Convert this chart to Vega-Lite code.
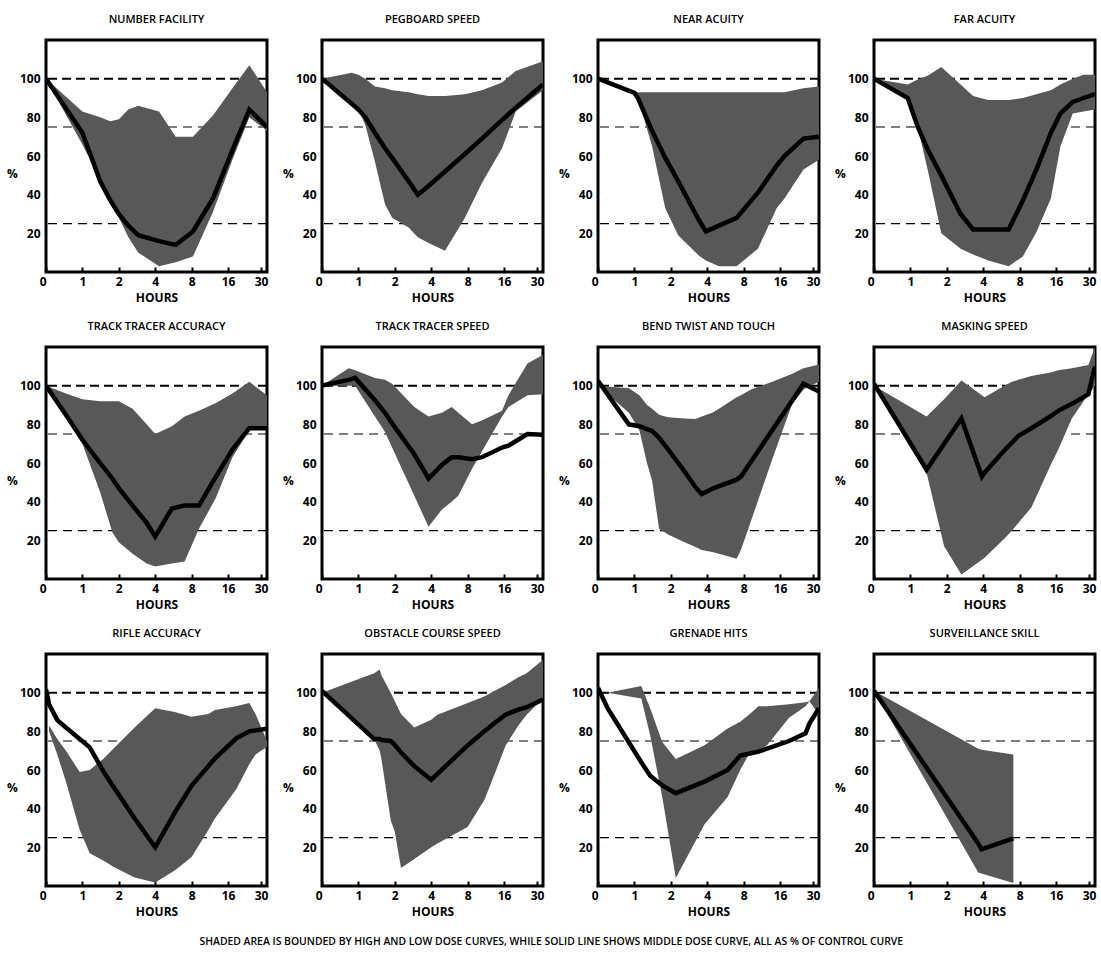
{
"$schema": "https://vega.github.io/schema/vega-lite/v6.json",
"background": "white",
"padding": {"left": 5, "top": 12, "right": 0, "bottom": 0},
"data": {"values": [
{"test":"NUMBER FACILITY","h":0,"lo":100,"hi":100,"mid":100},
{"test":"NUMBER FACILITY","h":1,"lo":66,"hi":83,"mid":72},
{"test":"NUMBER FACILITY","h":1.4,"lo":48,"hi":80,"mid":47},
{"test":"NUMBER FACILITY","h":1.7,"lo":37,"hi":78,"mid":37},
{"test":"NUMBER FACILITY","h":2,"lo":28,"hi":79,"mid":30},
{"test":"NUMBER FACILITY","h":2.4,"lo":18,"hi":84,"mid":24},
{"test":"NUMBER FACILITY","h":2.9,"lo":10,"hi":86,"mid":19},
{"test":"NUMBER FACILITY","h":4.3,"lo":3,"hi":83,"mid":16},
{"test":"NUMBER FACILITY","h":5.9,"lo":5,"hi":70,"mid":14},
{"test":"NUMBER FACILITY","h":8.2,"lo":8,"hi":70,"mid":21},
{"test":"NUMBER FACILITY","h":12,"lo":31,"hi":81,"mid":38},
{"test":"NUMBER FACILITY","h":17.4,"lo":58,"hi":95,"mid":63},
{"test":"NUMBER FACILITY","h":24,"lo":80,"hi":107,"mid":84},
{"test":"NUMBER FACILITY","h":33.6,"lo":73,"hi":93,"mid":75},
{"test":"PEGBOARD SPEED","h":0,"lo":100,"hi":100,"mid":100},
{"test":"PEGBOARD SPEED","h":0.88,"lo":88,"hi":103,"mid":87},
{"test":"PEGBOARD SPEED","h":1,"lo":84,"hi":102,"mid":84},
{"test":"PEGBOARD SPEED","h":1.14,"lo":76,"hi":100,"mid":80},
{"test":"PEGBOARD SPEED","h":1.37,"lo":57,"hi":96,"mid":72},
{"test":"PEGBOARD SPEED","h":1.66,"lo":35,"hi":95,"mid":64},
{"test":"PEGBOARD SPEED","h":1.9,"lo":28,"hi":94,"mid":59},
{"test":"PEGBOARD SPEED","h":2.6,"lo":23,"hi":93,"mid":47},
{"test":"PEGBOARD SPEED","h":3.1,"lo":18,"hi":92,"mid":40},
{"test":"PEGBOARD SPEED","h":3.8,"lo":15,"hi":91,"mid":44.5},
{"test":"PEGBOARD SPEED","h":5.2,"lo":11,"hi":91,"mid":52},
{"test":"PEGBOARD SPEED","h":7.6,"lo":28,"hi":92,"mid":61},
{"test":"PEGBOARD SPEED","h":10.5,"lo":46,"hi":94,"mid":69},
{"test":"PEGBOARD SPEED","h":15.4,"lo":64,"hi":98,"mid":78.6},
{"test":"PEGBOARD SPEED","h":20,"lo":83,"hi":104,"mid":85},
{"test":"PEGBOARD SPEED","h":33.6,"lo":94,"hi":109,"mid":97},
{"test":"NEAR ACUITY","h":0,"lo":100,"hi":100,"mid":100},
{"test":"NEAR ACUITY","h":1,"lo":92.6,"hi":93,"mid":92.6},
{"test":"NEAR ACUITY","h":1.07,"lo":90,"hi":93,"mid":90},
{"test":"NEAR ACUITY","h":1.4,"lo":65,"hi":93,"mid":73},
{"test":"NEAR ACUITY","h":1.8,"lo":33,"hi":93,"mid":59},
{"test":"NEAR ACUITY","h":2.3,"lo":19,"hi":93,"mid":47},
{"test":"NEAR ACUITY","h":3.4,"lo":8.5,"hi":93,"mid":27},
{"test":"NEAR ACUITY","h":3.9,"lo":6,"hi":93,"mid":21},
{"test":"NEAR ACUITY","h":5,"lo":3,"hi":93,"mid":24},
{"test":"NEAR ACUITY","h":7,"lo":3,"hi":93,"mid":28},
{"test":"NEAR ACUITY","h":10.5,"lo":12,"hi":93,"mid":41},
{"test":"NEAR ACUITY","h":15,"lo":33,"hi":93,"mid":55},
{"test":"NEAR ACUITY","h":17.4,"lo":38,"hi":93,"mid":60},
{"test":"NEAR ACUITY","h":25,"lo":53,"hi":95,"mid":69},
{"test":"NEAR ACUITY","h":33.6,"lo":58,"hi":96,"mid":70},
{"test":"FAR ACUITY","h":0,"lo":100,"hi":100,"mid":100},
{"test":"FAR ACUITY","h":0.95,"lo":89,"hi":97,"mid":90},
{"test":"FAR ACUITY","h":1.15,"lo":75,"hi":99.6,"mid":75},
{"test":"FAR ACUITY","h":1.4,"lo":52,"hi":101.7,"mid":63},
{"test":"FAR ACUITY","h":1.8,"lo":20,"hi":106,"mid":50},
{"test":"FAR ACUITY","h":2.6,"lo":12,"hi":97,"mid":30},
{"test":"FAR ACUITY","h":3.3,"lo":9,"hi":91,"mid":22},
{"test":"FAR ACUITY","h":4.4,"lo":6,"hi":89,"mid":22},
{"test":"FAR ACUITY","h":6.5,"lo":3,"hi":89,"mid":22},
{"test":"FAR ACUITY","h":8.5,"lo":8,"hi":90,"mid":37},
{"test":"FAR ACUITY","h":11,"lo":20.5,"hi":92,"mid":53},
{"test":"FAR ACUITY","h":14.5,"lo":38,"hi":94,"mid":72},
{"test":"FAR ACUITY","h":17.4,"lo":65,"hi":97,"mid":82},
{"test":"FAR ACUITY","h":22,"lo":82,"hi":100,"mid":88},
{"test":"FAR ACUITY","h":27,"lo":83,"hi":102,"mid":90},
{"test":"FAR ACUITY","h":33.6,"lo":84,"hi":102,"mid":92},
{"test":"TRACK TRACER ACCURACY","h":0,"lo":100,"hi":100,"mid":100},
{"test":"TRACK TRACER ACCURACY","h":0.73,"lo":83,"hi":96,"mid":85},
{"test":"TRACK TRACER ACCURACY","h":1,"lo":70,"hi":93,"mid":72},
{"test":"TRACK TRACER ACCURACY","h":1.4,"lo":45,"hi":92,"mid":60},
{"test":"TRACK TRACER ACCURACY","h":1.77,"lo":24,"hi":92,"mid":52},
{"test":"TRACK TRACER ACCURACY","h":2,"lo":19,"hi":92,"mid":47},
{"test":"TRACK TRACER ACCURACY","h":2.6,"lo":13,"hi":88,"mid":38},
{"test":"TRACK TRACER ACCURACY","h":3.4,"lo":8,"hi":80,"mid":29},
{"test":"TRACK TRACER ACCURACY","h":4,"lo":6.5,"hi":75,"mid":22},
{"test":"TRACK TRACER ACCURACY","h":5.5,"lo":8,"hi":79,"mid":36.5},
{"test":"TRACK TRACER ACCURACY","h":7,"lo":9,"hi":84,"mid":38},
{"test":"TRACK TRACER ACCURACY","h":9.2,"lo":26,"hi":87,"mid":38},
{"test":"TRACK TRACER ACCURACY","h":12.7,"lo":42,"hi":91,"mid":53},
{"test":"TRACK TRACER ACCURACY","h":17.4,"lo":63,"hi":96,"mid":67},
{"test":"TRACK TRACER ACCURACY","h":24,"lo":77,"hi":102,"mid":78},
{"test":"TRACK TRACER ACCURACY","h":33.6,"lo":78,"hi":95,"mid":78},
{"test":"TRACK TRACER SPEED","h":0,"lo":100,"hi":100,"mid":100},
{"test":"TRACK TRACER SPEED","h":0.83,"lo":100,"hi":109,"mid":103},
{"test":"TRACK TRACER SPEED","h":0.94,"lo":100,"hi":108,"mid":104},
{"test":"TRACK TRACER SPEED","h":1.37,"lo":84,"hi":104,"mid":92.5},
{"test":"TRACK TRACER SPEED","h":1.66,"lo":76,"hi":103,"mid":86},
{"test":"TRACK TRACER SPEED","h":1.9,"lo":68,"hi":101,"mid":80.5},
{"test":"TRACK TRACER SPEED","h":2.9,"lo":43,"hi":89,"mid":64.5},
{"test":"TRACK TRACER SPEED","h":3.8,"lo":27,"hi":84,"mid":52},
{"test":"TRACK TRACER SPEED","h":4.9,"lo":36,"hi":86,"mid":59},
{"test":"TRACK TRACER SPEED","h":5.9,"lo":40,"hi":89,"mid":63},
{"test":"TRACK TRACER SPEED","h":6.7,"lo":43,"hi":86,"mid":63},
{"test":"TRACK TRACER SPEED","h":8.7,"lo":57,"hi":80,"mid":62},
{"test":"TRACK TRACER SPEED","h":10.5,"lo":66,"hi":82,"mid":63},
{"test":"TRACK TRACER SPEED","h":15.4,"lo":84,"hi":87,"mid":68},
{"test":"TRACK TRACER SPEED","h":17.4,"lo":89,"hi":95,"mid":69},
{"test":"TRACK TRACER SPEED","h":25,"lo":95,"hi":111.5,"mid":75},
{"test":"TRACK TRACER SPEED","h":33.6,"lo":95.5,"hi":116,"mid":74.6},
{"test":"BEND TWIST AND TOUCH","h":0,"lo":100,"hi":100,"mid":102.5},
{"test":"BEND TWIST AND TOUCH","h":0.9,"lo":86,"hi":98.6,"mid":80},
{"test":"BEND TWIST AND TOUCH","h":1.1,"lo":77,"hi":95,"mid":79},
{"test":"BEND TWIST AND TOUCH","h":1.27,"lo":60,"hi":90,"mid":77.5},
{"test":"BEND TWIST AND TOUCH","h":1.4,"lo":51,"hi":88,"mid":76.6},
{"test":"BEND TWIST AND TOUCH","h":1.6,"lo":26,"hi":85,"mid":73},
{"test":"BEND TWIST AND TOUCH","h":1.9,"lo":23,"hi":83.6,"mid":67},
{"test":"BEND TWIST AND TOUCH","h":2.6,"lo":19,"hi":83,"mid":55.6},
{"test":"BEND TWIST AND TOUCH","h":3.2,"lo":16.5,"hi":82.7,"mid":47.5},
{"test":"BEND TWIST AND TOUCH","h":3.6,"lo":15,"hi":84,"mid":44},
{"test":"BEND TWIST AND TOUCH","h":4.4,"lo":14,"hi":86,"mid":46.6},
{"test":"BEND TWIST AND TOUCH","h":5,"lo":13,"hi":88,"mid":48},
{"test":"BEND TWIST AND TOUCH","h":7,"lo":10.5,"hi":94,"mid":51.4},
{"test":"BEND TWIST AND TOUCH","h":7.6,"lo":15,"hi":95,"mid":53},
{"test":"BEND TWIST AND TOUCH","h":9.2,"lo":30,"hi":98,"mid":60.7},
{"test":"BEND TWIST AND TOUCH","h":13.8,"lo":62,"hi":102,"mid":77},
{"test":"BEND TWIST AND TOUCH","h":20,"lo":90,"hi":106,"mid":92},
{"test":"BEND TWIST AND TOUCH","h":25,"lo":98,"hi":109,"mid":101},
{"test":"BEND TWIST AND TOUCH","h":33.6,"lo":102,"hi":111,"mid":97},
{"test":"MASKING SPEED","h":0,"lo":100,"hi":100,"mid":101},
{"test":"MASKING SPEED","h":1.36,"lo":55,"hi":84,"mid":56.5},
{"test":"MASKING SPEED","h":1.9,"lo":17,"hi":93,"mid":70},
{"test":"MASKING SPEED","h":2.64,"lo":2.3,"hi":102.7,"mid":83},
{"test":"MASKING SPEED","h":3.9,"lo":10,"hi":95,"mid":53},
{"test":"MASKING SPEED","h":4.1,"lo":11,"hi":94,"mid":55},
{"test":"MASKING SPEED","h":6,"lo":21,"hi":100,"mid":66.6},
{"test":"MASKING SPEED","h":6.9,"lo":25,"hi":102,"mid":70.5},
{"test":"MASKING SPEED","h":7.8,"lo":29,"hi":103,"mid":74},
{"test":"MASKING SPEED","h":10,"lo":37,"hi":105,"mid":78},
{"test":"MASKING SPEED","h":14.7,"lo":60,"hi":107,"mid":84.5},
{"test":"MASKING SPEED","h":16.7,"lo":67,"hi":108,"mid":87},
{"test":"MASKING SPEED","h":21.6,"lo":83,"hi":109,"mid":90.6},
{"test":"MASKING SPEED","h":29.6,"lo":95.5,"hi":110.7,"mid":95.5},
{"test":"MASKING SPEED","h":33.6,"lo":100,"hi":120,"mid":110},
{"test":"RIFLE ACCURACY","h":0,"lo":null,"hi":null,"mid":101.8},
{"test":"RIFLE ACCURACY","h":0.53,"lo":80,"hi":83,"mid":94},
{"test":"RIFLE ACCURACY","h":0.62,"lo":68,"hi":76,"mid":85.8},
{"test":"RIFLE ACCURACY","h":0.73,"lo":54,"hi":70,"mid":82},
{"test":"RIFLE ACCURACY","h":0.95,"lo":29,"hi":59,"mid":76},
{"test":"RIFLE ACCURACY","h":1.15,"lo":17,"hi":60,"mid":71.7},
{"test":"RIFLE ACCURACY","h":1.5,"lo":13,"hi":66,"mid":59},
{"test":"RIFLE ACCURACY","h":1.8,"lo":10,"hi":71,"mid":51.5},
{"test":"RIFLE ACCURACY","h":2.7,"lo":4.4,"hi":82,"mid":35},
{"test":"RIFLE ACCURACY","h":4,"lo":1.8,"hi":92,"mid":20},
{"test":"RIFLE ACCURACY","h":5.8,"lo":8,"hi":90,"mid":38},
{"test":"RIFLE ACCURACY","h":8,"lo":15,"hi":87.6,"mid":52},
{"test":"RIFLE ACCURACY","h":11,"lo":29,"hi":89,"mid":62},
{"test":"RIFLE ACCURACY","h":12.5,"lo":35,"hi":91,"mid":66},
{"test":"RIFLE ACCURACY","h":18.7,"lo":50,"hi":93,"mid":76.4},
{"test":"RIFLE ACCURACY","h":24,"lo":63,"hi":94.7,"mid":80},
{"test":"RIFLE ACCURACY","h":27,"lo":68,"hi":89,"mid":80.5},
{"test":"RIFLE ACCURACY","h":33.6,"lo":72,"hi":75,"mid":81.4},
{"test":"OBSTACLE COURSE SPEED","h":0,"lo":100,"hi":100,"mid":100.9},
{"test":"OBSTACLE COURSE SPEED","h":1.35,"lo":76,"hi":110,"mid":76},
{"test":"OBSTACLE COURSE SPEED","h":1.5,"lo":70,"hi":112,"mid":76},
{"test":"OBSTACLE COURSE SPEED","h":1.55,"lo":65.7,"hi":109,"mid":75.5},
{"test":"OBSTACLE COURSE SPEED","h":1.85,"lo":34,"hi":100,"mid":75},
{"test":"OBSTACLE COURSE SPEED","h":2,"lo":28,"hi":95.6,"mid":73},
{"test":"OBSTACLE COURSE SPEED","h":2.25,"lo":9.3,"hi":89,"mid":69},
{"test":"OBSTACLE COURSE SPEED","h":2.9,"lo":14,"hi":82,"mid":62},
{"test":"OBSTACLE COURSE SPEED","h":4,"lo":20,"hi":86,"mid":55},
{"test":"OBSTACLE COURSE SPEED","h":4.5,"lo":22,"hi":88.6,"mid":58},
{"test":"OBSTACLE COURSE SPEED","h":8,"lo":30.5,"hi":94.7,"mid":72.7},
{"test":"OBSTACLE COURSE SPEED","h":11,"lo":44.5,"hi":98,"mid":80},
{"test":"OBSTACLE COURSE SPEED","h":13.4,"lo":58,"hi":101,"mid":84.3},
{"test":"OBSTACLE COURSE SPEED","h":16.5,"lo":72.7,"hi":104,"mid":88.6},
{"test":"OBSTACLE COURSE SPEED","h":21,"lo":83,"hi":108,"mid":91.2},
{"test":"OBSTACLE COURSE SPEED","h":24.6,"lo":88.6,"hi":110,"mid":92.5},
{"test":"OBSTACLE COURSE SPEED","h":33.6,"lo":97,"hi":117,"mid":96.5},
{"test":"GRENADE HITS","h":0,"lo":null,"hi":null,"mid":102.6},
{"test":"GRENADE HITS","h":0.6,"lo":100,"hi":100,"mid":92},
{"test":"GRENADE HITS","h":1.14,"lo":97,"hi":103.5,"mid":64},
{"test":"GRENADE HITS","h":1.35,"lo":78,"hi":92,"mid":57},
{"test":"GRENADE HITS","h":1.7,"lo":46,"hi":74.5,"mid":52},
{"test":"GRENADE HITS","h":2.2,"lo":4.2,"hi":65.7,"mid":48},
{"test":"GRENADE HITS","h":3.8,"lo":32,"hi":72.8,"mid":54},
{"test":"GRENADE HITS","h":5.9,"lo":46,"hi":81.5,"mid":60},
{"test":"GRENADE HITS","h":7.5,"lo":60,"hi":85,"mid":67.5},
{"test":"GRENADE HITS","h":9,"lo":69,"hi":89,"mid":68.5},
{"test":"GRENADE HITS","h":10.6,"lo":70,"hi":93,"mid":69.5},
{"test":"GRENADE HITS","h":12.5,"lo":72.8,"hi":93,"mid":71},
{"test":"GRENADE HITS","h":19,"lo":87,"hi":94,"mid":75},
{"test":"GRENADE HITS","h":26,"lo":93,"hi":95,"mid":79},
{"test":"GRENADE HITS","h":28,"lo":95.6,"hi":95.6,"mid":84},
{"test":"GRENADE HITS","h":33.6,"lo":88.6,"hi":102.6,"mid":92},
{"test":"SURVEILLANCE SKILL","h":0,"lo":101,"hi":101,"mid":101},
{"test":"SURVEILLANCE SKILL","h":3.64,"lo":7,"hi":71,"mid":22},
{"test":"SURVEILLANCE SKILL","h":3.87,"lo":6.5,"hi":70.5,"mid":19},
{"test":"SURVEILLANCE SKILL","h":7.1,"lo":1.6,"hi":68,"mid":24.6},
{"test":"NUMBER FACILITY","ref":100},{"test":"NUMBER FACILITY","ref":75},{"test":"NUMBER FACILITY","ref":25},
{"test":"PEGBOARD SPEED","ref":100},{"test":"PEGBOARD SPEED","ref":75},{"test":"PEGBOARD SPEED","ref":25},
{"test":"NEAR ACUITY","ref":100},{"test":"NEAR ACUITY","ref":75},{"test":"NEAR ACUITY","ref":25},
{"test":"FAR ACUITY","ref":100},{"test":"FAR ACUITY","ref":75},{"test":"FAR ACUITY","ref":25},
{"test":"TRACK TRACER ACCURACY","ref":100},{"test":"TRACK TRACER ACCURACY","ref":75},{"test":"TRACK TRACER ACCURACY","ref":25},
{"test":"TRACK TRACER SPEED","ref":100},{"test":"TRACK TRACER SPEED","ref":75},{"test":"TRACK TRACER SPEED","ref":25},
{"test":"BEND TWIST AND TOUCH","ref":100},{"test":"BEND TWIST AND TOUCH","ref":75},{"test":"BEND TWIST AND TOUCH","ref":25},
{"test":"MASKING SPEED","ref":100},{"test":"MASKING SPEED","ref":75},{"test":"MASKING SPEED","ref":25},
{"test":"RIFLE ACCURACY","ref":100},{"test":"RIFLE ACCURACY","ref":75},{"test":"RIFLE ACCURACY","ref":25},
{"test":"OBSTACLE COURSE SPEED","ref":100},{"test":"OBSTACLE COURSE SPEED","ref":75},{"test":"OBSTACLE COURSE SPEED","ref":25},
{"test":"GRENADE HITS","ref":100},{"test":"GRENADE HITS","ref":75},{"test":"GRENADE HITS","ref":25},
{"test":"SURVEILLANCE SKILL","ref":100},{"test":"SURVEILLANCE SKILL","ref":75},{"test":"SURVEILLANCE SKILL","ref":25}
]},
"facet": {"field": "test", "type": "nominal", "title": null,
  "sort": ["NUMBER FACILITY","PEGBOARD SPEED","NEAR ACUITY","FAR ACUITY","TRACK TRACER ACCURACY","TRACK TRACER SPEED","BEND TWIST AND TOUCH","MASKING SPEED","RIFLE ACCURACY","OBSTACLE COURSE SPEED","GRENADE HITS","SURVEILLANCE SKILL"],
  "header": {"labelFont": "Open Sans", "labelFontWeight": 600, "labelFontSize": 11, "labelColor": "black", "labelPadding": 15}},
"columns": 4,
"spacing": {"column": 11, "row": 14},
"resolve": {"axis": {"x": "independent", "y": "independent"}},
"spec": {
  "width": 221,
  "height": 232,
  "layer": [
    {"transform": [{"filter": "datum.ref == 100"}],
     "mark": {"type": "rule", "color": "black", "strokeWidth": 2, "strokeDash": [9, 5]},
     "encoding": {"y": {"field": "ref", "type": "quantitative", "scale": {"domain": [0, 120], "nice": false},
        "axis": {"values": [20, 40, 60, 80, 100], "title": "%"}}}},
    {"transform": [{"filter": "datum.ref != null && datum.ref < 100"}],
     "mark": {"type": "rule", "color": "black", "strokeWidth": 1.2, "strokeDash": [9, 6]},
     "encoding": {"y": {"field": "ref", "type": "quantitative", "axis": {"values": [20, 40, 60, 80, 100], "title": "%"}}}},
    {"transform": [{"filter": "isValid(datum.lo) && isValid(datum.hi)"}],
     "mark": {"type": "area", "color": "#585858", "opacity": 1, "clip": true},
     "encoding": {
       "x": {"field": "h", "type": "quantitative", "scale": {"type": "log", "base": 2, "domain": [0.5, 33.6], "nice": false, "clamp": true},
          "axis": {"values": [0, 1, 2, 4, 8, 16, 30], "title": "HOURS", "labelExpr": "'' + datum.value",
                   "labelAlign": {"condition": {"test": "datum.value == 0", "value": "right"}, "value": "center"}}},
       "y": {"field": "hi", "type": "quantitative", "axis": {"values": [20, 40, 60, 80, 100], "title": "%"}},
       "y2": {"field": "lo"}}},
    {"transform": [{"filter": "isValid(datum.mid)"}],
     "mark": {"type": "line", "color": "black", "strokeWidth": 4.5, "clip": true},
     "encoding": {
       "x": {"field": "h", "type": "quantitative", "axis": {"values": [0, 1, 2, 4, 8, 16, 30], "title": "HOURS", "labelExpr": "'' + datum.value",
                   "labelAlign": {"condition": {"test": "datum.value == 0", "value": "right"}, "value": "center"}}},
       "y": {"field": "mid", "type": "quantitative", "axis": {"values": [20, 40, 60, 80, 100], "title": "%"}}}}
  ]
},
"title": {"text": "SHADED AREA IS BOUNDED BY HIGH AND LOW DOSE CURVES, WHILE SOLID LINE SHOWS MIDDLE DOSE CURVE, ALL AS % OF CONTROL CURVE",
  "orient": "bottom", "anchor": "middle", "font": "Open Sans", "fontWeight": 600, "fontSize": 10.4, "color": "black", "offset": 18},
"config": {
  "font": "Open Sans",
  "view": {"stroke": "black", "strokeWidth": 3},
  "axis": {"domain": false, "grid": false, "labelFont": "Open Sans", "labelFontWeight": 700, "labelFontSize": 12, "labelColor": "black",
           "titleFont": "Open Sans", "titleFontWeight": 700, "titleFontSize": 12, "titleColor": "black"},
  "axisX": {"ticks": true, "tickSize": -5, "tickWidth": 2, "tickColor": "black", "labelPadding": 9, "titlePadding": 5, "labelFlush": false},
  "axisY": {"ticks": false, "labelPadding": 6, "titleAngle": 0, "titleBaseline": "middle", "titleAlign": "center", "titleX": -34, "titleY": 133}
}
}
